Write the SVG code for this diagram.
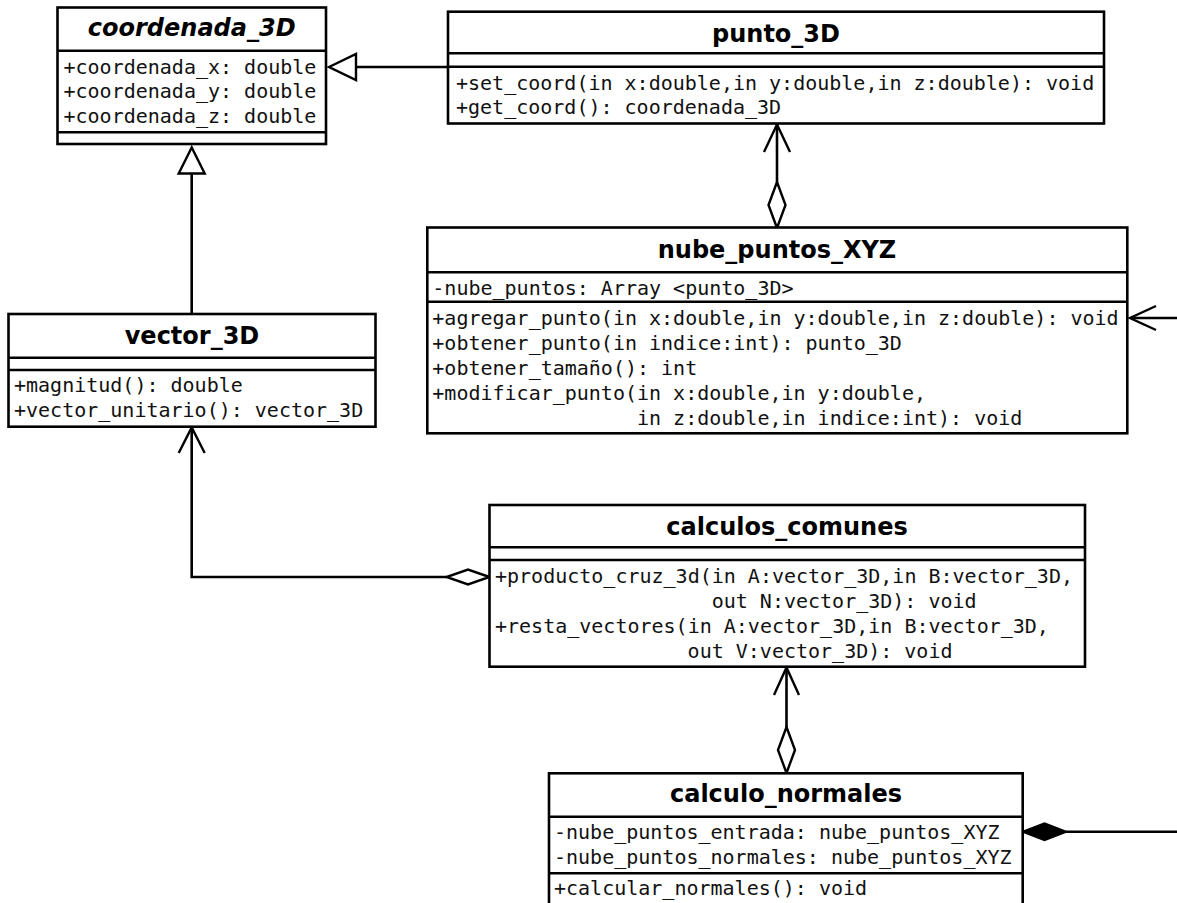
<svg xmlns="http://www.w3.org/2000/svg" width="1177" height="903" viewBox="0 0 1177 903">
  <style>
    .box { fill: #fff; stroke: #000; stroke-width: 2.6; }
    .sep { stroke: #000; stroke-width: 2.6; }
    .title { font-family: "DejaVu Sans", "Liberation Sans", sans-serif; font-weight: bold; font-size: 24px; fill: #000; text-anchor: middle; }
    .abstract { font-style: italic; }
    .member { font-family: "DejaVu Sans Mono", "Liberation Mono", monospace; font-size: 20px; fill: #111; }
    .edge { fill: none; stroke: #000; stroke-width: 2.6; }
    .hollow { fill: #fff; stroke: #000; stroke-width: 2.4; stroke-linejoin: miter; }
    .open { fill: none; stroke: #000; stroke-width: 2.4; }
    .solid { fill: #000; stroke: #000; stroke-width: 1.5; }
  </style>

  <!-- associations, aggregations and generalizations -->
  <g id="connectors">
    <!-- punto_3D generalizes coordenada_3D -->
    <line class="edge" x1="448" y1="67" x2="356" y2="67"/>
    <polygon class="hollow" points="329,67 356,54 356,80"/>

    <!-- vector_3D generalizes coordenada_3D -->
    <line class="edge" x1="191.7" y1="314" x2="191.7" y2="173.5"/>
    <polygon class="hollow" points="191.7,147.5 178.7,173.5 204.7,173.5"/>

    <!-- nube_puntos_XYZ aggregates punto_3D -->
    <line class="edge" x1="777" y1="124" x2="777" y2="182"/>
    <polyline class="open" points="764,152 777,124.5 790,152"/>
    <polygon class="hollow" points="777,228 768.5,205 777,182 785.5,205"/>

    <!-- incoming navigable association on nube_puntos_XYZ -->
    <line class="edge" x1="1131" y1="318" x2="1177" y2="318"/>
    <polyline class="open" points="1156,306 1130,318 1156,330"/>

    <!-- calculos_comunes aggregates vector_3D -->
    <polyline class="edge" points="191.7,427 191.7,577 447,577"/>
    <polyline class="open" points="178.7,453 191.7,427.5 204.7,453"/>
    <polygon class="hollow" points="489.5,577 468,569.5 446.5,577 468,584.5"/>

    <!-- calculo_normales aggregates calculos_comunes -->
    <line class="edge" x1="786.5" y1="667" x2="786.5" y2="727"/>
    <polyline class="open" points="774,695 786.5,667.5 799,695"/>
    <polygon class="hollow" points="786.5,773 778,750 786.5,727 795,750"/>

    <!-- calculo_normales composes outgoing association -->
    <line class="edge" x1="1066" y1="831.7" x2="1177" y2="831.7"/>
    <polygon class="solid" points="1022,831.7 1044.5,823 1067,831.7 1044.5,840.4"/>
  </g>

  <!-- abstract base class -->
  <g id="coordenada_3D">
    <rect class="box" x="57.5" y="7.5" width="268.5" height="136.5"/>
    <line class="sep" x1="57.5" y1="50.7" x2="326" y2="50.7"/>
    <line class="sep" x1="57.5" y1="132.3" x2="326" y2="132.3"/>
    <text class="title abstract" x="191.7" y="36">coordenada_3D</text>
    <text class="member" x="63.5" y="73.5">+coordenada_x: double</text>
    <text class="member" x="63.5" y="98">+coordenada_y: double</text>
    <text class="member" x="63.5" y="122.5">+coordenada_z: double</text>
  </g>

  <g id="punto_3D">
    <rect class="box" x="448" y="11.7" width="656" height="111.8"/>
    <line class="sep" x1="448" y1="53.3" x2="1104" y2="53.3"/>
    <line class="sep" x1="448" y1="66.7" x2="1104" y2="66.7"/>
    <text class="title" x="776" y="42">punto_3D</text>
    <text class="member" x="456" y="89.5">+set_coord(in x:double,in y:double,in z:double): void</text>
    <text class="member" x="456" y="114">+get_coord(): coordenada_3D</text>
  </g>

  <g id="nube_puntos_XYZ">
    <rect class="box" x="427.3" y="227.5" width="700" height="205.8"/>
    <line class="sep" x1="427.3" y1="272.3" x2="1127.3" y2="272.3"/>
    <line class="sep" x1="427.3" y1="301.7" x2="1127.3" y2="301.7"/>
    <text class="title" x="777" y="258">nube_puntos_XYZ</text>
    <text class="member" x="432.3" y="295">-nube_puntos: Array &lt;punto_3D&gt;</text>
    <text class="member" x="432.3" y="325">+agregar_punto(in x:double,in y:double,in z:double): void</text>
    <text class="member" x="432.3" y="350">+obtener_punto(in indice:int): punto_3D</text>
    <text class="member" x="432.3" y="375">+obtener_tamaño(): int</text>
    <text class="member" x="432.3" y="400">+modificar_punto(in x:double,in y:double,</text>
    <text class="member" x="637" y="425">in z:double,in indice:int): void</text>
  </g>

  <g id="vector_3D">
    <rect class="box" x="8.5" y="314" width="367" height="112.7"/>
    <line class="sep" x1="8.5" y1="357.7" x2="375.5" y2="357.7"/>
    <line class="sep" x1="8.5" y1="370" x2="375.5" y2="370"/>
    <text class="title" x="192" y="344">vector_3D</text>
    <text class="member" x="14" y="391.7">+magnitud(): double</text>
    <text class="member" x="14" y="416.7">+vector_unitario(): vector_3D</text>
  </g>

  <g id="calculos_comunes">
    <rect class="box" x="489.5" y="505" width="595.5" height="161.7"/>
    <line class="sep" x1="489.5" y1="547.3" x2="1085" y2="547.3"/>
    <line class="sep" x1="489.5" y1="560" x2="1085" y2="560"/>
    <text class="title" x="787" y="535">calculos_comunes</text>
    <text class="member" x="495" y="583">+producto_cruz_3d(in A:vector_3D,in B:vector_3D,</text>
    <text class="member" x="711.7" y="608">out N:vector_3D): void</text>
    <text class="member" x="495" y="633">+resta_vectores(in A:vector_3D,in B:vector_3D,</text>
    <text class="member" x="687.6" y="658">out V:vector_3D): void</text>
  </g>

  <g id="calculo_normales">
    <rect class="box" x="549" y="773.3" width="473.7" height="140"/>
    <line class="sep" x1="549" y1="816.7" x2="1022.7" y2="816.7"/>
    <line class="sep" x1="549" y1="873.3" x2="1022.7" y2="873.3"/>
    <text class="title" x="786" y="802">calculo_normales</text>
    <text class="member" x="554" y="839.3">-nube_puntos_entrada: nube_puntos_XYZ</text>
    <text class="member" x="554" y="864">-nube_puntos_normales: nube_puntos_XYZ</text>
    <text class="member" x="554" y="895">+calcular_normales(): void</text>
  </g>
</svg>
